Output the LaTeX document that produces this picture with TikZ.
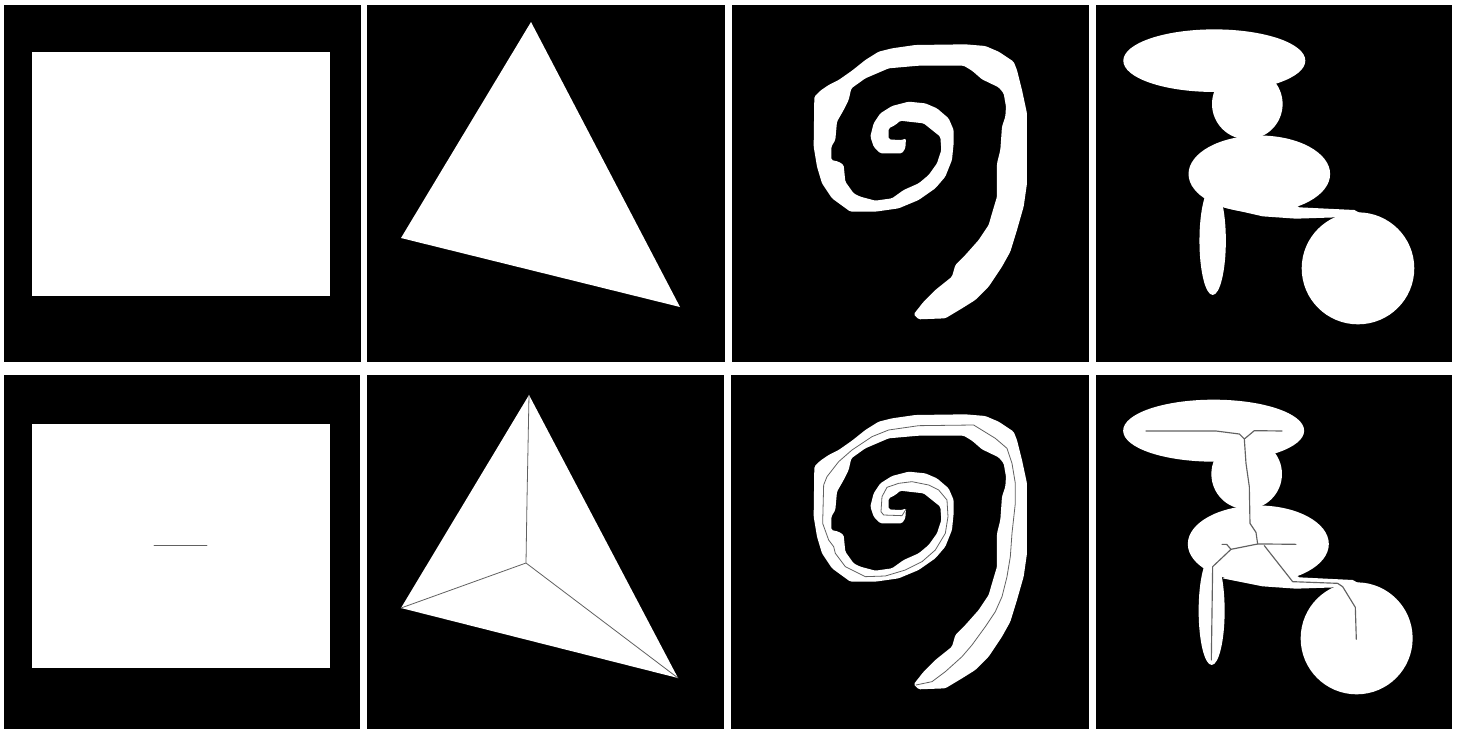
\documentclass[tikz,border=0pt]{standalone}
\tikzset{
  panel/.style={fill=black,draw=none},
  blob/.style={fill=white,draw=none},
  skel/.style={draw=black!62,line width=0.8pt,line join=round,line cap=round},
  skelthick/.style={skel,line width=1.15pt},
  zoomA/.style={x=0.33333pt,y=-0.33333pt,shift={(2196,0)}},
  zoomB/.style={x=0.33333pt,y=-0.33333pt,shift={(2196,1110)}},
  zoomC/.style={x=0.33333pt,y=-0.33333pt,shift={(3288,0)}},
  zoomD/.style={x=0.33333pt,y=-0.33333pt,shift={(3288,1110)}}
}
\def\spiralshape{(545,943) -- (560,958) -- (640,955) -- (690,925) -- (730,900) -- (770,860) -- (810,800) -- (835,755) -- (855,690) -- (875,620) -- (885,550) -- (885,340) -- (870,270) -- (855,210) -- (845,185) -- (800,155) -- (760,138) -- (700,133) -- (550,135) -- (480,145) -- (440,155) -- (400,180) -- (360,212) -- (320,240) -- (290,255) -- (265,272) -- (247,290) -- (245,440) -- (255,500) -- (270,550) -- (300,595) -- (355,635) -- (430,635) -- (500,625) -- (560,600) -- (610,565) -- (640,530) -- (660,480) -- (665,430) -- (665,390) -- (650,355) -- (615,325) -- (580,310) -- (530,305) -- (480,318) -- (445,340) -- (425,370) -- (415,410) -- (425,440) -- (445,460) -- (510,460) -- (520,445) -- (522,415) -- (510,420) -- (500,420) -- (470,418) -- (470,385) -- (490,375) -- (505,362) -- (530,365) -- (575,370) -- (600,390) -- (625,410) -- (628,450) -- (615,490) -- (590,525) -- (560,550) -- (515,570) -- (480,595) -- (430,602) -- (385,590) -- (365,580) -- (340,545) -- (335,495) -- (320,485) -- (298,480) -- (298,440) -- (310,420) -- (315,365) -- (335,330) -- (350,300) -- (358,265) -- (400,235) -- (470,205) -- (560,197) -- (695,197) -- (720,212) -- (750,238) -- (800,262) -- (815,280) -- (822,320) -- (820,350) -- (810,380) -- (805,450) -- (795,490) -- (795,590) -- (780,640) -- (770,675) -- (740,720) -- (700,765) -- (670,795) -- (660,830) -- (610,870) -- (575,905) -- cycle}
\begin{document}
\begin{tikzpicture}[x=1pt,y=-1pt]
\useasboundingbox (0,0) rectangle (1462,729);
\fill[white] (0,0) rectangle (1462,729);
% panels
\fill[panel] (4,5) rectangle (361,362);
\fill[panel] (367,5) rectangle (725,362);
\fill[panel] (732,5) rectangle (1089,362);
\fill[panel] (1096,5) rectangle (1452,362);
\fill[panel] (4,375) rectangle (360,729);
\fill[panel] (367,375) rectangle (724,729);
\fill[panel] (731,375) rectangle (1089,729);
\fill[panel] (1096,375) rectangle (1452,729);
% rectangles
\fill[blob] (32,52) rectangle (330,296);
\fill[blob] (32,424) rectangle (330,668);
\draw[skel] (154,545) -- (207,545);
% triangles
\fill[blob] (531,22) -- (401,238) -- (680,307) -- cycle;
\fill[blob] (529,395) -- (401,608) -- (678,678) -- cycle;
\coordinate (tc) at (526,563);
\draw[skel] (529,395) -- (527,500) -- (tc) (401,608) -- (tc) (678,678) -- (tc);
% spirals
\begin{scope}[zoomA]
  \fill[blob,rounded corners=1.5pt] \spiralshape;
\end{scope}
\begin{scope}[zoomB]
  \fill[blob,rounded corners=1.5pt] \spiralshape;
  \draw[skel] (552,945) -- (600,935) -- (640,905) -- (690,860) -- (720,825) -- (760,770) -- (790,725) -- (810,680) -- (825,620) -- (835,560) -- (840,490) -- (850,400) -- (850,340) -- (840,280) -- (825,235) -- (790,205) -- (725,165) -- (560,167) -- (470,180) -- (420,200) -- (360,240) -- (320,275) -- (285,320) -- (275,345) -- (272,460) -- (290,510) -- (305,530) -- (310,550) -- (340,590) -- (400,620) -- (460,618) -- (520,600) -- (570,575) -- (610,540) -- (640,490) -- (648,440) -- (645,390) -- (620,360) -- (590,345) -- (540,335) -- (500,340) -- (465,352) -- (450,380) -- (447,425) -- (455,435) -- (510,437) -- (522,418);
\end{scope}
% figure, upper
\begin{scope}[zoomC]
  \fill[blob] (355,182) ellipse [x radius=91pt,y radius=31.3pt];
  \fill[blob] (454,312) ellipse [x radius=35.3pt,y radius=35.3pt];
  \fill[blob] (490,522) ellipse [x radius=70.8pt,y radius=38.5pt];
  \fill[blob] (350,722) ellipse [x radius=13.2pt,y radius=54.3pt];
  \fill[blob] (786,805) ellipse [x radius=56.3pt,y radius=56pt];
  \fill[blob] (382,622) -- (500,649) -- (600,656) -- (722,652) -- (800,650) -- (790,638) -- (775,630) -- (610,622) -- (560,590) -- cycle;
\end{scope}
% figure, lower
\begin{scope}[zoomD]
  \fill[blob] (353,182) ellipse [x radius=90.5pt,y radius=31pt];
  \fill[blob] (452,312) ellipse [x radius=35.3pt,y radius=35.3pt];
  \fill[blob] (487,522) ellipse [x radius=70.5pt,y radius=38.5pt];
  \fill[blob] (347,722) ellipse [x radius=13pt,y radius=54.3pt];
  \fill[blob] (782,805) ellipse [x radius=56pt,y radius=56pt];
  \fill[blob] (380,625) -- (500,649) -- (600,656) -- (722,652) -- (795,650) -- (785,638) -- (770,630) -- (610,622) -- (560,590) -- cycle;
  \draw[skelthick] (150,183) -- (360,183) -- (430,192) -- (445,207) -- (475,182) -- (558,183);
  \draw[skelthick] (445,207) -- (450,280) -- (460,350) -- (462,460) -- (480,487) -- (485,522);
  \draw[skelthick] (378,523) -- (392,523) -- (405,538) -- (485,522) -- (510,522) -- (600,523);
  \draw[skelthick] (405,538) -- (350,590) -- (346,870);
  \draw[skelthick] (505,527) -- (590,635) -- (725,640) -- (740,650) -- (778,712) -- (781,808);
\end{scope}
\end{tikzpicture}
\end{document}
